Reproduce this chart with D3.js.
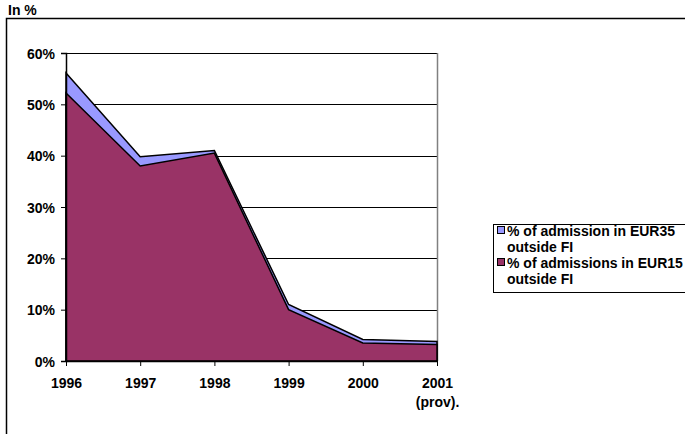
<!DOCTYPE html>
<html><head><meta charset="utf-8">
<script src="https://cdn.jsdelivr.net/npm/d3@7"></script>
<style>
body{margin:0;background:#fff;}
svg text{font-family:"Liberation Sans",Arial,sans-serif;font-weight:bold;fill:#000;}
</style></head>
<body><svg id="c" width="685" height="434"></svg>
<script>
const years = ["1996","1997","1998","1999","2000","2001"];
const yearSub = ["","","","","","(prov)."];
const eur15 = [52.2, 38.0, 40.5, 10.0, 3.5, 3.2];
const eur35 = [56.1, 39.8, 41.0, 11.0, 4.2, 3.8];
const yTicks = [0,10,20,30,40,50,60];
const seriesNames = ["% of admission in EUR35|outside FI", "% of admissions in EUR15|outside FI"];
const colors = ["#9999FF", "#993366"];

const svg = d3.select("#c");
const L = 66, R = 437, T = 53, B = 361;
const FS = 14;
const x = d3.scalePoint().domain(years).range([L, R]);
const y = d3.scaleLinear().domain([0, 60]).range([B, T]);

// outer frame
svg.append("rect").attr("x",6.5).attr("y",18.5).attr("width",700).attr("height",500)
  .attr("fill","none").attr("stroke","#000").attr("stroke-width",1.5);
svg.append("text").attr("x",8).attr("y",15).attr("font-size",FS).text("In %");

// gridlines
svg.append("g").selectAll("line").data(yTicks.filter(d=>d>0)).join("line")
  .attr("x1",L).attr("x2",R).attr("y1",d=>Math.round(y(d))+0.5).attr("y2",d=>Math.round(y(d))+0.5)
  .attr("stroke","#000").attr("stroke-width",1);
// plot right border
svg.append("line").attr("x1",R+0.5).attr("x2",R+0.5).attr("y1",T).attr("y2",B)
  .attr("stroke","#808080").attr("stroke-width",1.5);

const data = years.map((yr,i)=>({yr, a:eur15[i], b:eur35[i]}));
svg.append("path").datum(data)
  .attr("d", d3.area().x(d=>x(d.yr)).y0(y(0)).y1(d=>y(d.b)))
  .attr("fill",colors[0]).attr("stroke","#000").attr("stroke-width",1.5);
svg.append("path").datum(data)
  .attr("d", d3.area().x(d=>x(d.yr)).y0(y(0)).y1(d=>y(d.a)))
  .attr("fill",colors[1]).attr("stroke","#000").attr("stroke-width",1.5);

// axes
const yAx = svg.append("g").attr("transform",`translate(${L},0)`)
  .call(d3.axisLeft(y).tickValues(yTicks).tickSize(5).tickFormat(d=>d+"%"));
yAx.attr("font-family",null).attr("font-size",null);
yAx.select(".domain").attr("stroke","#000").attr("stroke-width",1.5);
yAx.selectAll("text").attr("font-size",FS).attr("x",-11).attr("dy","0.36em");

const xAx = svg.append("g").attr("transform",`translate(0,${B})`)
  .call(d3.axisBottom(x).tickSize(5).tickSizeOuter(0));
xAx.attr("font-family",null).attr("font-size",null);
xAx.select(".domain").attr("stroke","#000").attr("stroke-width",1.5);
xAx.selectAll("text").remove();
xAx.selectAll(".tick").each(function(d,i){
  const t = d3.select(this).append("text").attr("text-anchor","middle").attr("font-size",FS).attr("fill","#000");
  t.append("tspan").attr("x",0).attr("y",27).text(d);
  if (yearSub[i]) t.append("tspan").attr("x",0).attr("y",46).text(yearSub[i]);
});

// legend
const lg = svg.append("g");
lg.append("rect").attr("x",493.5).attr("y",224.5).attr("width",200).attr("height",68)
  .attr("fill","#fff").attr("stroke","#000").attr("stroke-width",1);
seriesNames.forEach((n,i)=>{
  const yy = 236 + i*32;
  lg.append("rect").attr("x",497.5).attr("y",yy-9.5).attr("width",7).attr("height",7)
    .attr("fill",colors[i]).attr("stroke","#000").attr("stroke-width",1);
  n.split("|").forEach((s,j)=>{
    lg.append("text").attr("x",507).attr("y",yy+j*16).attr("font-size",FS).text(s);
  });
});
</script></body></html>
